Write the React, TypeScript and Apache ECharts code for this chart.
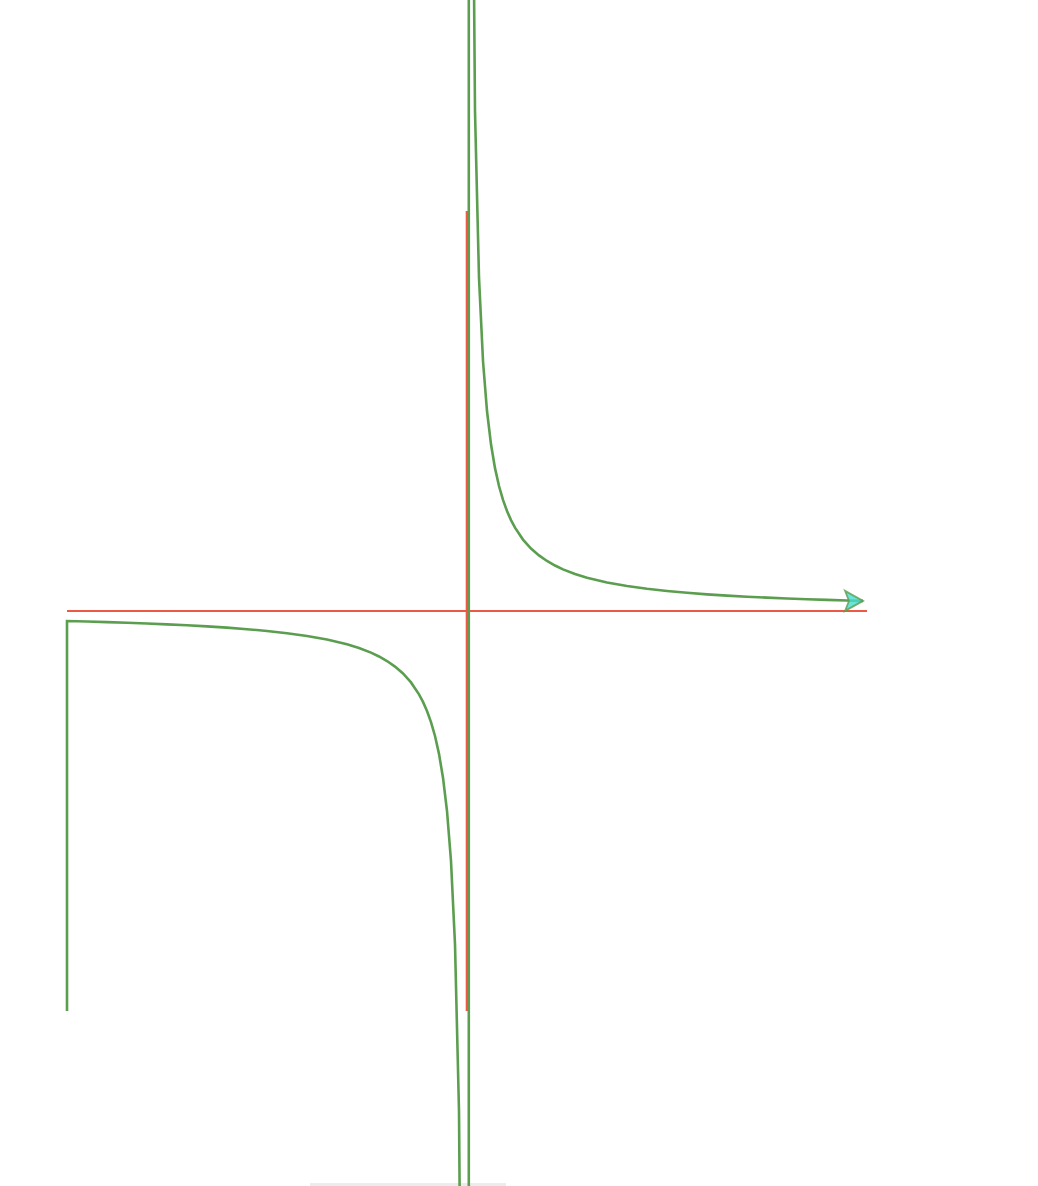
import React, { useEffect, useRef } from "react";
import * as echarts from "echarts";

// Axis lines (world units)
const hAxisX = [-200, 200];
const hAxisY = [0, 0];
const vAxisX = [0, 0];
const vAxisY = [200, -200];

// Green curve (world units, 1 unit = 2 px)
const curveX = [
  -200, -200, -190, -180, -170, -160, -150, -140, -130, -120, -110, -100, -90, -80, -70, -60,
  -54, -48, -44, -40, -36, -32, -28, -24, -22, -20, -18, -16, -14, -12, -10, -8, -6, -4, -2, 0.9,
  0.9, 2, 4, 6, 8, 10, 12, 14, 16, 18, 20, 22, 24, 28, 32, 36, 40, 44, 48, 54, 60, 70, 80, 90, 100,
  110, 120, 130, 140, 150, 160, 170, 180, 190, 198,
];
const curveY = [
  -200, -5, -5.26, -5.56, -5.88, -6.25, -6.67, -7.14, -7.69, -8.33, -9.09, -10, -11.11, -12.5, -14.29, -16.67,
  -18.52, -20.83, -22.73, -25, -27.78, -31.25, -35.71, -41.67, -45.45, -50, -55.56, -62.5, -71.43, -83.33, -100, -125, -166.67, -250, -500, -1000,
  1000, 500, 250, 166.67, 125, 100, 83.33, 71.43, 62.5, 55.56, 50, 45.45, 41.67, 35.71, 31.25, 27.78, 25, 22.73, 20.83, 18.52, 16.67, 14.29, 12.5, 11.11, 10,
  9.09, 8.33, 7.69, 7.14, 6.67, 6.25, 5.88, 5.56, 5.26, 5.05,
];

// Turtle arrow at the end of the curve
const arrowX = [198];
const arrowY = [5.05];

const GREEN = "#5c9e4f";
const RED = "#ec5a45";

function pairs(xs: number[], ys: number[]) {
  return xs.map((x, i) => [x, ys[i]]);
}

export default function App() {
  const ref = useRef<HTMLDivElement>(null);
  useEffect(() => {
    if (!ref.current) return;
    const chart = echarts.init(ref.current, null, { renderer: "svg" });
    chart.setOption({
      animation: false,
      backgroundColor: "#ffffff",
      grid: { left: 67, right: 171, top: 0, bottom: 0, containLabel: false },
      xAxis: {
        type: "value",
        min: -200,
        max: 200,
        show: false,
        splitLine: { show: false },
      },
      yAxis: {
        type: "value",
        min: -287.5,
        max: 305.5,
        show: false,
        splitLine: { show: false },
      },
      graphic: [
        {
          type: "rect",
          shape: { x: 310, y: 1183, width: 196, height: 3 },
          style: { fill: "#ececec" },
          silent: true,
        },
      ],
      series: [
        {
          type: "line",
          data: pairs(hAxisX, hAxisY),
          showSymbol: false,
          lineStyle: { color: RED, width: 2.2 },
          z: 1,
        },
        {
          type: "line",
          data: pairs(vAxisX, vAxisY),
          showSymbol: false,
          lineStyle: { color: RED, width: 2.6 },
          z: 1,
        },
        {
          type: "line",
          data: pairs(curveX, curveY),
          showSymbol: false,
          clip: true,
          lineStyle: { color: GREEN, width: 2.6, join: "miter" },
          z: 2,
        },
        {
          type: "scatter",
          data: pairs(arrowX, arrowY),
          symbol: "path://M18,10 L0,0 L4,10 L0,20 Z",
          symbolSize: [18, 20],
          symbolOffset: [-9, 0],
          itemStyle: { color: "#45dccf", borderColor: GREEN, borderWidth: 1.8 },
          z: 3,
        },
      ],
    });
    return () => chart.dispose();
  }, []);
  return (
    <div
      ref={ref}
      style={{ position: "fixed", left: 0, top: 0, width: 1038, height: 1186, background: "#fff" }}
    />
  );
}
